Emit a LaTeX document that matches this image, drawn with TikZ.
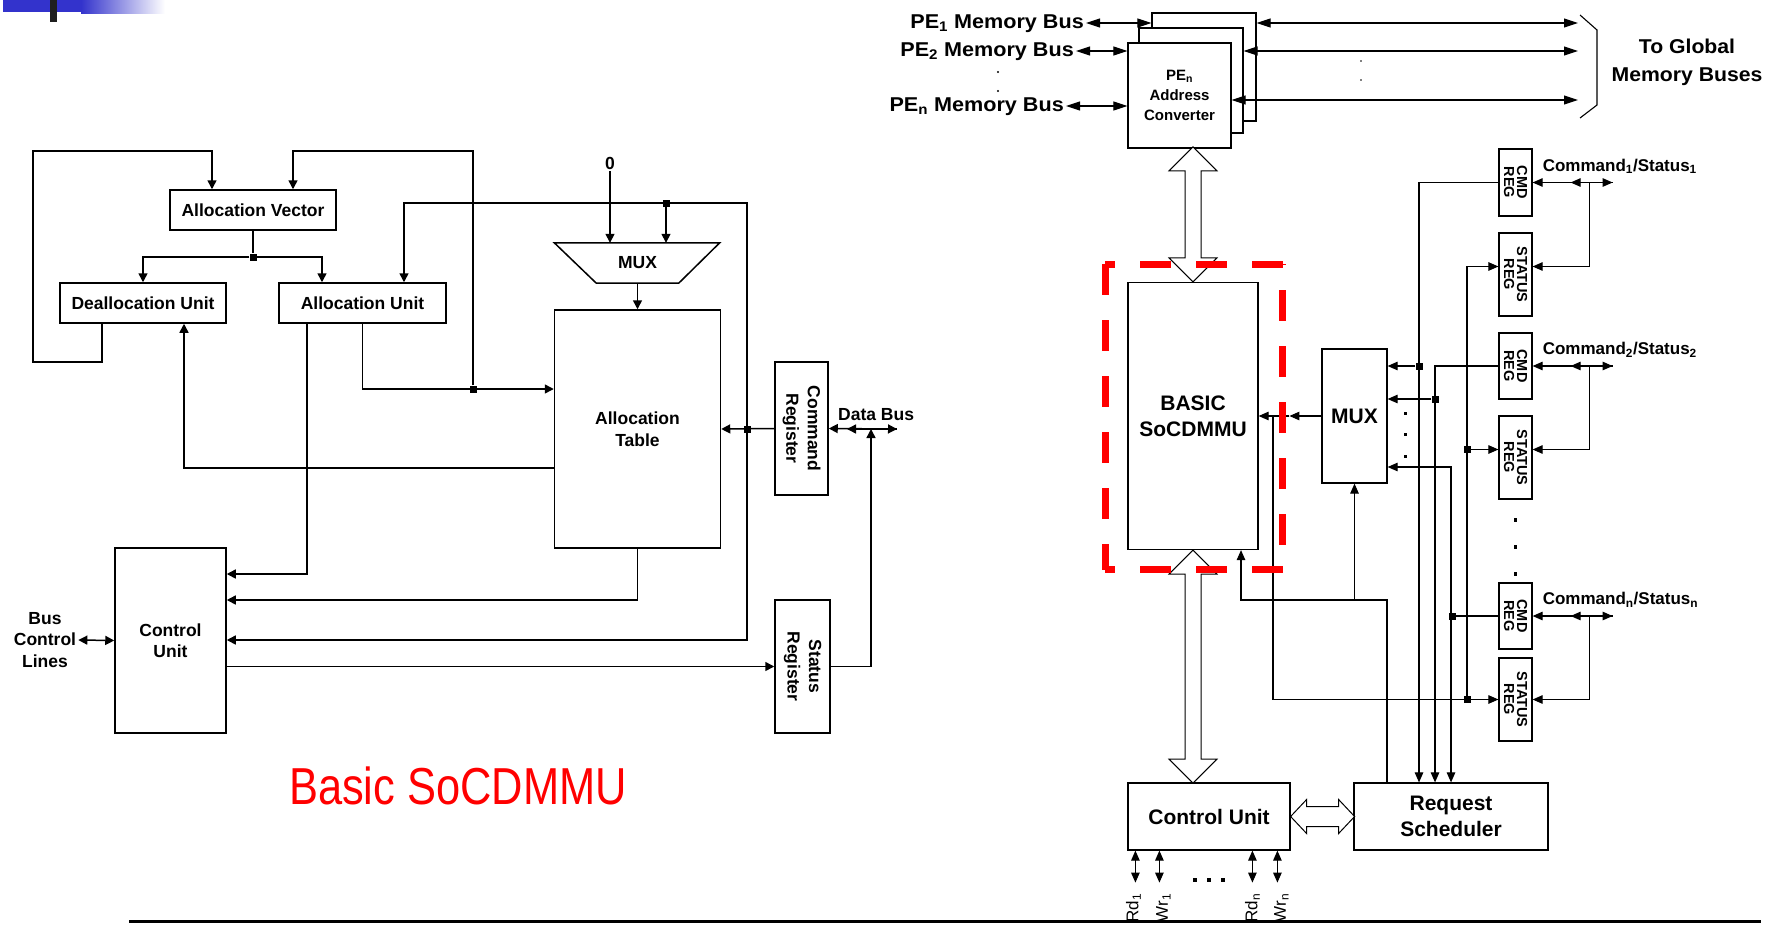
\documentclass[tikz,border=0pt]{standalone}
\usepackage{fontspec}
\setmainfont{Liberation Sans}
\usepackage{graphicx}
\usetikzlibrary{arrows.meta, positioning, calc}
\definecolor{slideblue}{RGB}{51,51,204}
\definecolor{markred}{RGB}{255,0,0}
\newcommand{\fntL}{\fontsize{17.5}{21.5}\selectfont\bfseries}
\newcommand{\fntR}{\fontsize{21}{26}\selectfont\bfseries}
\newcommand{\fntPE}{\fontsize{20}{28}\selectfont\bfseries}
\newcommand{\fntAC}{\fontsize{15}{20}\selectfont\bfseries}
\newcommand{\fntReg}{\fontsize{14.5}{13}\selectfont\bfseries}
\newcommand{\fntCS}{\fontsize{17}{20}\selectfont\bfseries}
\newcommand{\fntRW}{\fontsize{17}{20}\selectfont}
\newcommand{\fntT}{\fontsize{52}{60}\selectfont}
\tikzset{
  LT/.tip={Triangle[length=9pt,width=9pt]},
  RT/.tip={Triangle[length=10pt,width=8.5pt]},
  TT/.tip={Triangle[length=14pt,width=9pt]}
}

\begin{document}
\begin{tikzpicture}[x=1pt, y=-1pt,
    lblock/.style={rectangle, draw, line width=1.5pt, fill=white, inner sep=0pt, align=center, font=\fntL},
    rblock/.style={rectangle, draw, line width=1.2pt, fill=white, inner sep=0pt, align=center, font=\fntR},
    regbox/.style={rectangle, draw, line width=1.2pt, fill=white, minimum width=33pt, inner sep=0pt},
    regtext/.style={rotate=-90, font=\fntReg, align=center, inner sep=0pt},
    lline/.style={line width=1.5pt},
    larr/.style={lline, -LT},
    rline/.style={line width=1.1pt},
    rarr/.style={rline, -RT},
    ldot/.style={rectangle, fill=black, minimum size=7pt, inner sep=0pt},
    rdot/.style={rectangle, fill=black, minimum size=7pt, inner sep=0pt},
    hollow/.style={draw, line width=1pt, fill=white, line join=miter}
]
\useasboundingbox (0,0) rectangle (1784,926);
\clip (0,0) rectangle (1784,926);
\fill[white] (0,0) rectangle (1784,926);

% slide decoration
\fill[slideblue] (3,0) rectangle (81,12);
\shade[left color=slideblue, right color=white] (81,0) rectangle (165,13);
\fill[black!88] (50,0) rectangle (57,22);

% Basic SoCDMMU (left)
\node[lblock, minimum width=166pt, minimum height=40pt] (av) at (253,210) {Allocation Vector};
\node[lblock, minimum width=166pt, minimum height=40pt] (du) at (143,303) {Deallocation Unit};
\node[lblock, minimum width=167pt, minimum height=40pt] (au) at (362.5,303) {Allocation Unit};
\node[lblock, minimum width=166pt, minimum height=238pt] (atab) at (637.5,429) {Allocation\\Table};
\node[lblock, minimum width=111pt, minimum height=185pt] (cu) at (170.5,640.5) {Control\\Unit};
\node[lblock, minimum width=53pt, minimum height=133pt] (cr) at (801.5,428.5) {};
\node[lblock, minimum width=55pt, minimum height=133pt] (sr) at (802.5,666.5) {};
\node[rotate=-90, font=\fntL, align=center] (crt) at (cr) {Command\\Register};
\node[rotate=-90, font=\fntL, align=center] (srt) at (sr) {Status\\Register};
\node[font=\fntL, minimum width=82pt, minimum height=40pt, inner sep=0pt] (lmux) at (637.5,263) {MUX};
\draw[lline] ([xshift=-42pt]lmux.north west) -- ([xshift=41pt]lmux.north east) -- (lmux.south east) -- (lmux.south west) -- cycle;
\node[font=\fntL, inner sep=2pt] (zero) at (610,163) {0};
\node[font=\fntL, align=center, inner sep=2pt] (bcl) at (45,640) {Bus\\Control\\Lines};
\node[font=\fntL, anchor=west, inner sep=0pt] (dbl) at (838,415) {Data Bus};

% junctions
\node[ldot] (j1) at (253,257) {};
\node[ldot] (j2) at (473,389) {};
\node[ldot] (j3) at (747,429) {};
\node[ldot] (j4) at (666,203) {};
\coordinate (lpa) at (33,362);
\coordinate (lpb) at (33,151);
\coordinate (lpc) at (473,151);
\coordinate (c203) at (747,203);
\coordinate (c468) at (184,468);
\coordinate (c574) at (307,574);
\coordinate (c600) at (637.5,600);
\coordinate (c640) at (747,640);
\coordinate (dbr) at (897,429);
\coordinate (dbj) at (871,429);

% connections
\draw[lline] (av.south) -- (j1);
\draw[larr] (j1) -| (du.north);
\draw[larr] (j1) -| ([xshift=-40.5pt]au.north);
\draw[larr] ([xshift=-41pt]du.south) |- (lpa) -- (lpb) -| ([xshift=-41pt]av.north);
\draw[larr] (au.south) |- (atab.west |- j2);
\draw[larr] (j2) -- (lpc) -| ([xshift=40pt]av.north);
\draw[larr] (c468 -| atab.west) -- (c468) -- (c468 |- du.south);
\draw[larr] ([xshift=-55.5pt]au.south) -- (c574) -- (c574 -| cu.east);
\draw[larr] (atab.south) -- (c600) -- (c600 -| cu.east);
\draw[lline, LT-LT] ([xshift=41.5pt]au.north) |- (c203) -- (c640) -- (c640 -| cu.east);
\draw[larr] (j4) -- (j4 |- lmux.north);
\draw[larr] (zero) -- (zero |- lmux.north);
\draw[larr] (lmux.south) -- (atab.north);
\draw[larr] (cr.west) -- (atab.east);
\draw[larr] (cu.east |- sr.west) -- (sr.west);
\draw[larr] (sr.east) -| (dbj);
\draw[lline, LT-LT] (cr.east) -- (dbr);
\draw[larr] (dbr) -- ++(-50,0);
\draw[lline, LT-LT] (bcl.east) -- (cu.west);

\node[text=markred, font=\fntT, inner sep=0pt] (ttl) at (458,786) {\scalebox{0.835}[1]{Basic SoCDMMU}};

% SoCDMMU with address converters (right)
\node[rblock, minimum width=104pt, minimum height=108pt] (pe1) at (1204,67) {};
\node[rblock, minimum width=104pt, minimum height=105pt] (pe2) at (1191,80.5) {};
\node[rblock, minimum width=103pt, minimum height=105pt, font=\fntAC] (pen) at (1179.5,95.5) {PE\textsubscript{n}\\Address\\Converter};
\node[font=\fntPE, anchor=east, inner sep=2pt] (pe1l) at (1086,24) {\scalebox{1.08}[1]{PE\textsubscript{1} Memory Bus}};
\node[font=\fntPE, anchor=east, inner sep=2pt] (pe2l) at (1076,52) {\scalebox{1.08}[1]{PE\textsubscript{2} Memory Bus}};
\node[font=\fntPE, anchor=east, inner sep=2pt] (penl) at (1066,107) {\scalebox{1.08}[1]{PE\textsubscript{n} Memory Bus}};
\node[font=\fntPE, align=center] (tgl) at (1687,62) {\scalebox{1.06}[1]{To Global}\\\scalebox{1.06}[1]{Memory Buses}};
\coordinate (g1) at (1578,23);
\coordinate (g2) at (1578,51);
\coordinate (gn) at (1578,100);
\coordinate (gl) at (1066,106);
\draw[rline, TT-TT] (pe1l.east |- g1) -- (pe1.west |- g1);
\draw[rline, TT-TT] (pe2l.east |- g2) -- (pen.west |- g2);
\draw[rline, TT-TT] (gl) -- (pen.west |- gl);
\draw[rline, TT-TT] (pe1.east |- g1) -- (g1);
\draw[rline, TT-TT] (pe2.east |- g2) -- (g2);
\draw[rline, TT-TT] (pen.east |- gn) -- (gn);
\draw[rline] (1580,15) -- (1597,30) -- (1597,105) -- (1580,118);
\fill (998,72) circle (1.2pt) (998,91) circle (1.2pt);
\fill (1361,61) circle (0.8pt) (1361,80) circle (0.8pt);

\node[rblock, minimum width=130pt, minimum height=267pt] (basic) at (1193,416) {BASIC\\SoCDMMU};
\node[rblock, minimum width=65pt, minimum height=134pt] (rmux) at (1354.5,416) {MUX};
\node[rblock, minimum width=162pt, minimum height=67pt] (rcu) at (1209,816.5) {Control Unit};
\node[rblock, minimum width=194pt, minimum height=67pt] (rs) at (1451,816.5) {Request\\Scheduler};

% registers
\node[regbox, minimum height=67pt] (cmd1) at (1515.5,182.5) {};
\node[regbox, minimum height=83pt] (st1) at (1515.5,274.5) {};
\node[regbox, minimum height=66pt] (cmd2) at (1515.5,366) {};
\node[regbox, minimum height=83pt] (st2) at (1515.5,457.5) {};
\node[regbox, minimum height=66pt] (cmdn) at (1515.5,616) {};
\node[regbox, minimum height=83pt] (stn) at (1515.5,699.5) {};
\foreach \rg in {cmd1,cmd2,cmdn}
  \node[regtext] (\rg-t) at (\rg) {CMD\\REG};
\foreach \rg in {st1,st2,stn}
  \node[regtext] (\rg-t) at (\rg) {STATUS\\REG};

% hollow buses
\draw[hollow] (basic.north) -- ++(24,-24) -- ++(-16,0) -- ++(0,-87) -- ++(16,0) -- ++(-24,-24) -- ++(-24,24) -- ++(16,0) -- ++(0,87) -- ++(-16,0) -- cycle;
\draw[hollow] (basic.south) -- ++(24,24) -- ++(-16,0) -- ++(0,185) -- ++(16,0) -- ++(-24,24) -- ++(-24,-24) -- ++(16,0) -- ++(0,-185) -- ++(-16,0) -- cycle;
\draw[hollow] (rcu.east) -- ++(16,-17) -- ++(0,7) -- ++(32,0) -- ++(0,-7) -- ++(16,17) -- ++(-16,17) -- ++(0,-7) -- ++(-32,0) -- ++(0,7) -- cycle;

% register lines
\node[rdot] (k1) at (1419,366) {};
\node[rdot] (k2) at (1435,399) {};
\node[rdot] (k3) at (1452,616) {};
\node[rdot] (k5) at (1467,449.5) {};
\node[rdot] (k6) at (1467,699.5) {};
\coordinate (br) at (1273,416);
\coordinate (sj) at (1387,600);
\draw[rarr] (cmd1.west) -| ([xshift=-32pt]rs.north);
\draw[rarr] (cmd2.west) -| ([xshift=-16pt]rs.north);
\draw[rline, RT-RT] ([yshift=-51pt]rmux.east) -| (rs.north);
\draw[rline] (cmdn.west) -- (k3);
\draw[rarr] (k1) -- (k1 -| rmux.east);
\draw[rarr] (k2) -- (k2 -| rmux.east);
\draw[rarr] (rmux.west) -- ([xshift=-32pt]rmux.west);
\draw[rarr] ([xshift=-32pt]rmux.west) -- (basic.east);
\draw[rarr] (br) |- (stn.west);
\draw[rarr] (k6) |- ([yshift=8pt]st1.west);
\draw[rarr] (k5) -- (k5 -| st2.west);
\draw[rarr] ([xshift=-64pt]rs.north) -- (sj) -| ([xshift=48pt]basic.south);
\draw[rarr] (sj -| rmux.south) -- (rmux.south);
\foreach \rg/\sg/\kk/\dd in {cmd1/st1/1/8, cmd2/st2/2/8, cmdn/stn/n/0} {
  \draw[rline, RT-RT] (\rg.east) -- ++(80,0) coordinate (\rg-e);
  \draw[rarr] (\rg-e) -- ++(-42,0);
  \draw[rarr] ([xshift=57pt]\rg.east) |- ([yshift=\dd pt]\sg.east);
  \node[font=\fntCS, anchor=west, inner sep=0pt] (\rg-l) at ([xshift=10pt,yshift=16pt]\rg.east) {Command\textsubscript{\kk}/Status\textsubscript{\kk}};
}
\foreach \py in {412,433,455}
  \fill (1403.5,\py) rectangle ++(3,3);
\foreach \py in {518,545,572}
  \fill (1513.5,\py) rectangle ++(3.5,3.5);

% read / write lines
\foreach \dx/\lx/\lab [count=\i] in {8/6/Rd\textsubscript{1}, 32/36/Wr\textsubscript{1}, 125/125/Rd\textsubscript{n}, 150/154/Wr\textsubscript{n}} {
  \draw[rline, RT-RT] ([xshift=\dx pt]rcu.south west) -- ++(0,32) coordinate (rw\i);
  \node[font=\fntRW, rotate=90, anchor=east, inner sep=0pt] (rwl\i) at ([xshift=\lx pt, yshift=-43pt]rcu.south west) {\lab};
}
\foreach \px in {1193,1207,1221}
  \fill (\px,878) rectangle ++(4,4);

% marked block
\path ([shift={(24pt,17.5pt)}]basic.north east) coordinate (qtr)
      ([shift={(-22pt,17.5pt)}]basic.north west) coordinate (qtl)
      ([shift={(-22pt,-19.5pt)}]basic.south west) coordinate (qbl)
      ([shift={(24pt,-19.5pt)}]basic.south east) coordinate (qbr);
\begin{scope}[markred, line width=7pt, dash pattern=on 31pt off 25pt]
\draw (qtr) -- (qtl);
\draw (qtl) -- (qbl);
\draw (qbr) -- (qbl);
\draw[dash phase=31pt] (qbr) -- (qtr);
\end{scope}

% bottom rule
\draw[line width=3pt] (129,921) -- (1761,921);
\end{tikzpicture}
\end{document}
